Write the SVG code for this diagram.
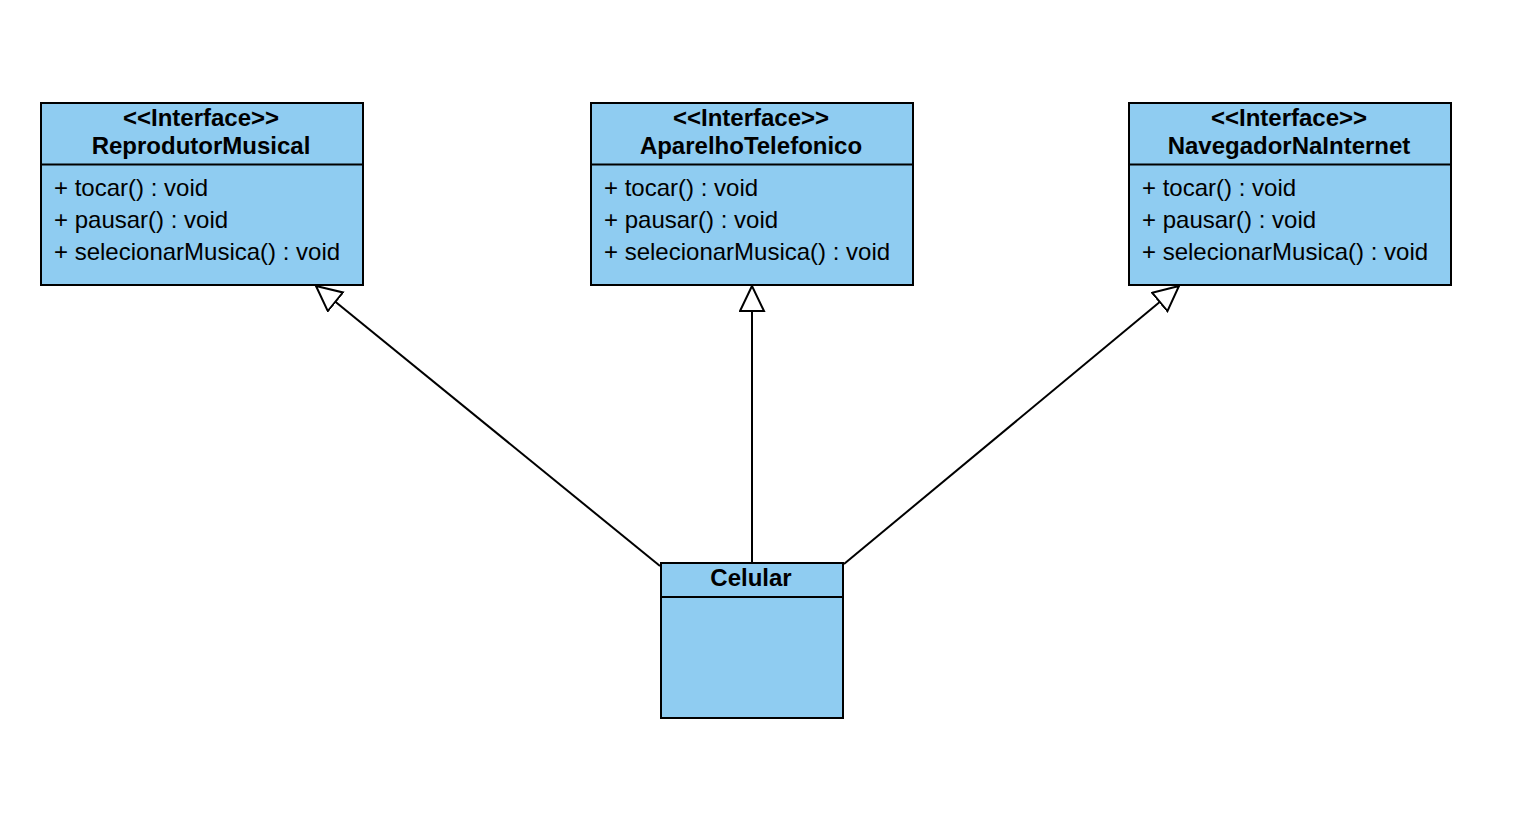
<svg xmlns="http://www.w3.org/2000/svg" width="1516" height="816" viewBox="0 0 1516 816">
<style>
.box{fill:#8fccf1;stroke:#000;stroke-width:2}
.div{stroke:#000;stroke-width:2}
.h{font-family:"Liberation Sans",Arial,sans-serif;font-size:24px;font-weight:bold;text-anchor:middle;fill:#000}
.a{font-family:"Liberation Sans",Arial,sans-serif;font-size:24px;fill:#000}
.c{stroke:#000;stroke-width:2;fill:none}
</style>
<defs>
<marker id="tri" markerUnits="userSpaceOnUse" viewBox="0 0 28 28" markerWidth="28" markerHeight="28" refX="26" refY="13" orient="auto">
<path d="M26,13 L1,1 L1,25 Z" fill="#fff" stroke="#000" stroke-width="2" stroke-linejoin="miter"/>
</marker>
</defs>
<rect width="1516" height="816" fill="#fff"/>
<g id="connectors">
<line class="c" x1="660" y1="566" x2="316" y2="286" marker-end="url(#tri)"/>
<line class="c" x1="752" y1="563" x2="752" y2="286" marker-end="url(#tri)"/>
<line class="c" x1="844" y1="564" x2="1179" y2="286" marker-end="url(#tri)"/>
</g>
<g id="ReprodutorMusical">
<rect class="box" x="41" y="103" width="322" height="182"/>
<line class="div" x1="41" y1="164.5" x2="363" y2="164.5"/>
<text class="h" x="201" y="126">&lt;&lt;Interface&gt;&gt;</text>
<text class="h" x="201" y="154">ReprodutorMusical</text>
<text class="a" x="54" y="196">+ tocar() : void</text>
<text class="a" x="54" y="228">+ pausar() : void</text>
<text class="a" x="54" y="260">+ selecionarMusica() : void</text>
</g>
<g id="AparelhoTelefonico">
<rect class="box" x="591" y="103" width="322" height="182"/>
<line class="div" x1="591" y1="164.5" x2="913" y2="164.5"/>
<text class="h" x="751" y="126">&lt;&lt;Interface&gt;&gt;</text>
<text class="h" x="751" y="154">AparelhoTelefonico</text>
<text class="a" x="604" y="196">+ tocar() : void</text>
<text class="a" x="604" y="228">+ pausar() : void</text>
<text class="a" x="604" y="260">+ selecionarMusica() : void</text>
</g>
<g id="NavegadorNaInternet">
<rect class="box" x="1129" y="103" width="322" height="182"/>
<line class="div" x1="1129" y1="164.5" x2="1451" y2="164.5"/>
<text class="h" x="1289" y="126">&lt;&lt;Interface&gt;&gt;</text>
<text class="h" x="1289" y="154">NavegadorNaInternet</text>
<text class="a" x="1142" y="196">+ tocar() : void</text>
<text class="a" x="1142" y="228">+ pausar() : void</text>
<text class="a" x="1142" y="260">+ selecionarMusica() : void</text>
</g>
<g id="Celular">
<rect class="box" x="661" y="563" width="182" height="155"/>
<line class="div" x1="661" y1="597" x2="843" y2="597"/>
<text class="h" x="751" y="586">Celular</text>
</g>
</svg>
